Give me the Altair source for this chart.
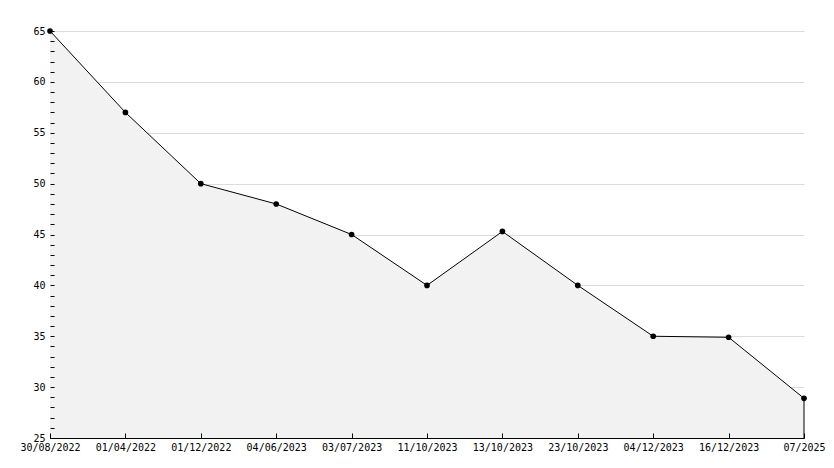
import altair as alt
import pandas as pd

dates = ["30/08/2022", "01/04/2022", "01/12/2022", "04/06/2023", "03/07/2023",
         "11/10/2023", "13/10/2023", "23/10/2023", "04/12/2023", "16/12/2023", "07/2025"]
values = [65, 57, 50, 48, 45, 40, 45.3, 40, 35, 34.9, 28.9]
y_min, y_max = 25, 65

df = pd.DataFrame({"date": dates, "value": values, "base": [y_min] * len(dates)})
last = df.tail(1)

W, H = 754, 407
font = "DejaVu Sans Mono"

xs = alt.Scale(type="point", padding=0)
ys = alt.Scale(domain=[y_min, y_max], zero=False, nice=False)

x_main = alt.X("date:N", sort=None, scale=xs, title=None,
               axis=alt.Axis(labelAngle=0, ticks=False, domainColor="black", labelFont=font,
                             labelFontSize=10, labelColor="black", labelPadding=4, grid=False,
                             zindex=1))
y_main = alt.Y("value:Q", scale=ys, title=None,
               axis=alt.Axis(values=list(range(25, 66, 5)), ticks=False, domainColor="black",
                             labelFont=font, labelFontSize=10, labelColor="black", labelPadding=5,
                             grid=True, gridColor="#dcdcdc", gridWidth=1))

area = alt.Chart(df).mark_area(color="#f2f2f2").encode(x=x_main, y=y_main, y2="base:Q")

line = alt.Chart(df).mark_line(color="black", strokeWidth=1).encode(
    x=alt.X("date:N", sort=None, scale=xs,
            axis=alt.Axis(orient="top", offset=-H, labels=False, domain=False, grid=False,
                          tickColor="black", tickSize=5, title=None, zindex=1)),
    y=alt.Y("value:Q", scale=ys,
            axis=alt.Axis(orient="right", offset=-W, labels=False, domain=False, grid=False,
                          values=list(range(25, 66)), tickColor="black", tickSize=4, title=None,
                          zindex=1)),
)

pts = alt.Chart(df).mark_point(shape="circle", filled=True, color="black", size=32, opacity=1).encode(
    x=alt.X("date:N", sort=None, scale=xs, axis=None),
    y=alt.Y("value:Q", scale=ys, axis=None),
)

edge = alt.Chart(last).mark_rule(color="black", strokeWidth=1).encode(
    x=alt.X("date:N", sort=None, scale=xs, axis=None),
    y=alt.Y("value:Q", scale=ys, axis=None),
    y2="base:Q",
)

chart = alt.layer(area, line, edge, pts).resolve_axis(x="independent", y="independent").properties(
    width=W, height=H,
    autosize=alt.AutoSizeParams(type="none"),
    padding={"left": 42, "top": 23, "right": 22, "bottom": 20},
    background="white",
).configure_view(strokeWidth=0, stroke="transparent")

chart.save("out.html", embed_options={"renderer": "svg", "actions": False})
